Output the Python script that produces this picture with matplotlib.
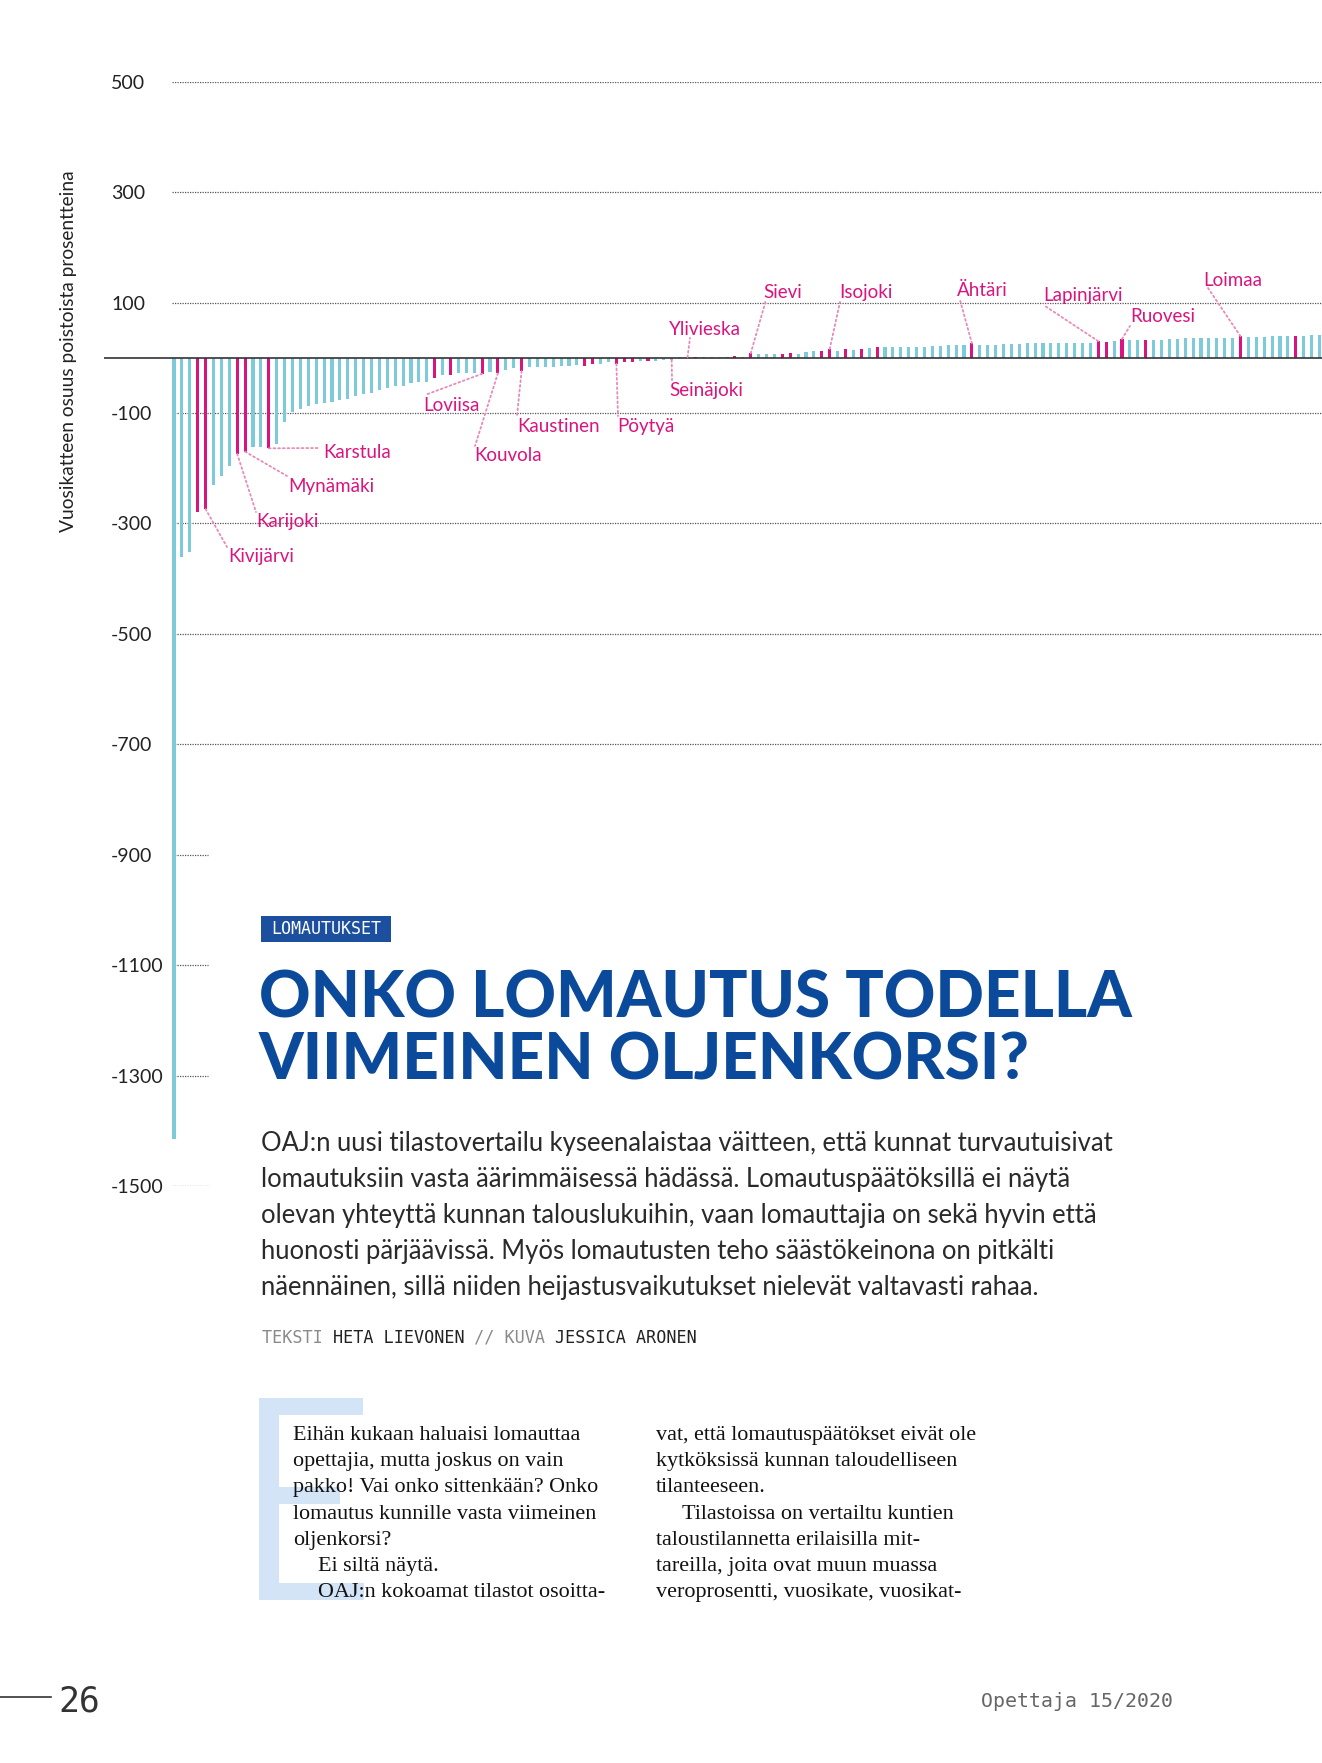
import matplotlib
matplotlib.use("Agg")
import matplotlib.pyplot as plt
from matplotlib.patches import Rectangle, ConnectionPatch
from matplotlib.lines import Line2D
from matplotlib.transforms import blended_transform_factory

# ---------------- data ----------------
values = [-1414, -361, -351, -280, -274, -230, -215, -196, -174, -170,
          -161, -161, -164, -156, -116, -98, -93, -88, -83, -82,
          -80, -76, -75, -70, -65, -64, -58, -54, -52, -51,
          -46, -43, -43, -37, -32, -32, -28, -28, -27, -29,
          -25, -28, -23, -19, -24, -17, -16, -16, -16, -14,
          -14, -13, -14, -12, -11, -8, -11, -8, -8, -6,
          -5, -5, -4, -4, 1, 1, 1, 1, 2, 2,
          2, 4, 2, 8, 6, 6, 7, 7, 8, 7,
          11, 12, 13, 16, 13, 15, 14, 15, 17, 19,
          19, 20, 20, 20, 20, 20, 22, 22, 23, 23,
          24, 26, 23, 23, 23, 25, 25, 25, 26, 26,
          26, 26, 27, 27, 27, 27, 27, 30, 29, 31,
          34, 33, 33, 33, 32, 33, 34, 34, 35, 35,
          35, 35, 36, 36, 36, 39, 37, 37, 38, 39,
          39, 39, 39, 40, 41, 41]
highlight = [3, 4, 8, 9, 12, 33, 35, 39, 41, 44, 52, 53, 56, 57, 58, 60,
             65, 66, 71, 73, 77, 78, 82, 83, 85, 87, 89, 101, 117, 118,
             120, 123, 135, 142]
label_names = ["Kivijärvi", "Karijoki", "Mynämäki", "Karstula", "Loviisa",
               "Kouvola", "Kaustinen", "Pöytyä", "Seinäjoki", "Ylivieska",
               "Sievi", "Isojoki", "Ähtäri", "Lapinjärvi", "Ruovesi", "Loimaa"]
label_bars = [4, 8, 9, 12, 39, 41, 44, 56, 63, 65, 73, 83, 101, 117, 120, 135]
ytick_values = [500, 300, 100, -100, -300, -500, -700, -900, -1100, -1300, -1500]
full_grid = [500, 300, 100, -100, -300, -500, -700]
short_grid = [-900, -1100, -1300, -1500]
ylabel = "Vuosikatteen osuus poistoista prosentteina"

tag_text = "LOMAUTUKSET"
title_lines = ["ONKO LOMAUTUS TODELLA", "VIIMEINEN OLJENKORSI?"]
lede_lines = [
    "OAJ:n uusi tilastovertailu kyseenalaistaa väitteen, että kunnat turvautuisivat",
    "lomautuksiin vasta äärimmäisessä hädässä. Lomautuspäätöksillä ei näytä",
    "olevan yhteyttä kunnan talouslukuihin, vaan lomauttajia on sekä hyvin että",
    "huonosti pärjäävissä. Myös lomautusten teho säästökeinona on pitkälti",
    "näennäinen, sillä niiden heijastusvaikutukset nielevät valtavasti rahaa.",
]
byline_parts = [("TEKSTI ", "light"), ("HETA LIEVONEN", "dark"),
                (" // KUVA ", "light"), ("JESSICA ARONEN", "dark")]
col1_lines = ["Eihän kukaan haluaisi lomauttaa",
              "opettajia, mutta joskus on vain",
              "pakko! Vai onko sittenkään? Onko",
              "lomautus kunnille vasta viimeinen",
              "oljenkorsi?",
              "Ei siltä näytä.",
              "OAJ:n kokoamat tilastot osoitta-"]
col1_indent = [False, False, False, False, False, True, True]
col2_lines = ["vat, että lomautuspäätökset eivät ole",
              "kytköksissä kunnan taloudelliseen",
              "tilanteeseen.",
              "Tilastoissa on vertailtu kuntien",
              "taloustilannetta erilaisilla mit-",
              "tareilla, joita ovat muun muassa",
              "veroprosentti, vuosikate, vuosikat-"]
col2_indent = [False, False, False, True, False, False, False]
page_number = "26"
magazine = "Opettaja 15/2020"

# ---------------- styles / layout ----------------
W, H = 1322, 1763
CYAN = "#7dcadb"
MAGENTA = "#d9147f"
PINK_LINE = "#e58cba"
BLUE = "#0b4a9b"
SANS = ["Lato", "DejaVu Sans"]
SERIF = ["Liberation Serif", "DejaVu Serif"]
MONO = ["DejaVu Sans Mono"]

fig = plt.figure(figsize=(W / 100, H / 100), dpi=100)
fig.patch.set_facecolor("white")
R = fig.canvas.get_renderer()


def fx(x):
    return x / W


def fy(y):
    return 1 - y / H


def fit(t, target_w):
    w = t.get_window_extent(R).width
    t.set_fontsize(t.get_fontsize() * target_w / w)
    return t.get_fontsize()


# chart axes: zero at y~358 px, 500 at 81.7 px, -1500 at 1186 px
ax_left, ax_right, ax_top, ax_bot = 104, 1322, 81.7, 1186
ax = fig.add_axes([fx(ax_left), fy(ax_bot), (ax_right - ax_left) / W,
                   (ax_bot - ax_top) / H])
ax.set_ylim(-1500, 500)
step = 7.9
x0 = (ax_left - 174) / step
x1 = (ax_right - 174) / step
ax.set_xlim(x0, x1)
ax.axis("off")

n = len(values)
colors = [MAGENTA if i in highlight else CYAN for i in range(n)]
ax.bar(range(n), values, width=0.38, color=colors, zorder=2, linewidth=0)

gx0 = (172 - 174) / step
gx_short = (208 - 174) / step
ax.hlines(full_grid, gx0, x1, colors="#555555", linestyles=(0, (1, 1)),
          linewidth=0.9, zorder=1)
ax.hlines(short_grid, gx0, gx_short, colors="#555555", linestyles=(0, (1, 1)),
          linewidth=0.9, zorder=1)
ax.axhline(0, color="#333333", linewidth=1.2, zorder=3)

trans_tick = blended_transform_factory(fig.transFigure, ax.transData)
for v in ytick_values:
    ax.text(fx(111), v, str(v), transform=trans_tick, ha="left",
            va="center_baseline", fontsize=14, color="#222222",
            family=SANS)

yl = fig.text(fx(69), fy(351), ylabel, rotation=90, ha="center", va="center",
              fontsize=13.8, color="#222222", family=SANS)

# labels with dotted leaders (layout in figure pixels, top-left origin)
label_layout = {
    "Kivijärvi": (228, 562, 227, 547),
    "Karijoki": (256, 527, 256, 512),
    "Mynämäki": (288, 492, 287, 476),
    "Karstula": (323, 458, 320, 448),
    "Loviisa": (423, 411, 425, 395),
    "Kouvola": (474, 461, 475, 446),
    "Kaustinen": (517, 432, 517, 416),
    "Pöytyä": (617, 432, 618, 416),
    "Seinäjoki": (669, 396, 672, 380),
    "Ylivieska": (669, 335, 690, 338),
    "Sievi": (763, 298, 766, 300),
    "Isojoki": (839, 298, 840, 302),
    "Ähtäri": (957, 296, 960, 300),
    "Lapinjärvi": (1043, 301, 1045, 306),
    "Ruovesi": (1130, 322, 1130, 326),
    "Loimaa": (1203, 286, 1208, 288),
}
for name, b in zip(label_names, label_bars):
    tx, ty, lx, ly = label_layout[name]
    fig.text(fx(tx), fy(ty), name, ha="left", va="baseline",
             fontsize=13.5, color=MAGENTA, family=SANS)
    cp = ConnectionPatch(xyA=(b, values[b]), coordsA=ax.transData,
                         xyB=(lx, H - ly), coordsB="figure pixels",
                         color=PINK_LINE, linewidth=1.3,
                         linestyle=(0, (1, 1.6)), zorder=4)
    fig.add_artist(cp)

# ---------------- article text ----------------
fig.patches.append(Rectangle((fx(261), fy(942)), 130 / W, 26 / H,
                             transform=fig.transFigure, facecolor="#1c4f9d",
                             edgecolor="none"))
fig.text(fx(326), fy(929), tag_text, ha="center", va="center", fontsize=12,
         color="white", family=MONO)

t1 = fig.text(fx(259), fy(1017), title_lines[0], ha="left", va="baseline",
              fontsize=48, fontweight="black", color=BLUE, family=SANS)
tfs = fit(t1, 874)
fig.text(fx(259), fy(1079), title_lines[1], ha="left", va="baseline",
         fontsize=tfs, fontweight="black", color=BLUE, family=SANS)

lede_base = [1151, 1187, 1223, 1259, 1295]
lt = fig.text(fx(261), fy(lede_base[0]), lede_lines[0], ha="left",
              va="baseline", fontsize=20, fontweight="normal",
              color="#2a2a2a", family=SANS)
lfs = fit(lt, 857)
for s, yb in zip(lede_lines[1:], lede_base[1:]):
    fig.text(fx(261), fy(yb), s, ha="left", va="baseline", fontsize=lfs,
             fontweight="normal", color="#2a2a2a", family=SANS)

cw = 434 / 43
mono_fs = cw / 0.602 * 72 / 100
pos = 0
for s, tone in byline_parts:
    fig.text(fx(262 + pos * cw), fy(1343), s, ha="left", va="baseline",
             fontsize=mono_fs, family=MONO,
             color="#8a8a8a" if tone == "light" else "#222222")
    pos += len(s)

# drop cap E (light blue block)
E_COL = "#d3e4f6"
for (x, y, w, h) in [(259, 1398, 104, 17), (259, 1398, 20, 202),
                     (259, 1487, 81, 17), (259, 1583, 105, 17)]:
    fig.patches.append(Rectangle((fx(x), fy(y + h)), w / W, h / H,
                                 transform=fig.transFigure,
                                 facecolor=E_COL, edgecolor="none", zorder=0))

body_base = [1440 + 26.2 * k for k in range(7)]
bt = fig.text(fx(293), fy(body_base[3]), col1_lines[3], ha="left",
              va="baseline", fontsize=15, color="#111111", family=SERIF)
bfs = fit(bt, 305)
for i, (s, ind) in enumerate(zip(col1_lines, col1_indent)):
    if i == 3:
        continue
    fig.text(fx(318 if ind else 293), fy(body_base[i]), s, ha="left",
             va="baseline", fontsize=bfs, color="#111111", family=SERIF)
for i, (s, ind) in enumerate(zip(col2_lines, col2_indent)):
    fig.text(fx(682 if ind else 656), fy(body_base[i]), s, ha="left",
             va="baseline", fontsize=bfs, color="#111111", family=SERIF)

# footer
fig.add_artist(Line2D([0, fx(51)], [fy(1697), fy(1697)], color="#333333",
                      linewidth=1.2, transform=fig.transFigure))
fig.text(fx(58), fy(1711), page_number, ha="left", va="baseline",
         fontsize=25, color="#333333", family=MONO)
fig.text(fx(981), fy(1707), magazine, ha="left", va="baseline",
         fontsize=14.3, color="#666666", family=MONO)

fig.savefig("out.png", dpi=100, facecolor="white")
